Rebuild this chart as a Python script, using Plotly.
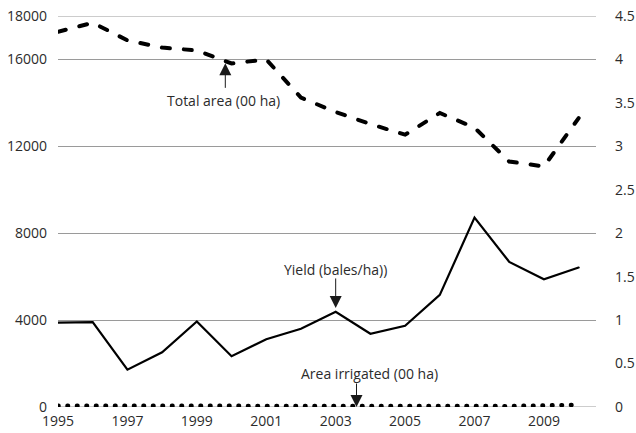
import plotly.graph_objects as go

years = list(range(1995, 2011))
total_area = [17275, 17690, 16880, 16545, 16415, 15815, 16000, 14245, 13580, 13025, 12536, 13535, 12860, 11300, 11075, 13300]
area_irrigated = [60, 60, 55, 55, 50, 45, 15, 10, 10, 10, 10, 15, 25, 40, 70, 100]
yield_bales = [0.97, 0.977, 0.43, 0.63, 0.985, 0.585, 0.78, 0.90, 1.096, 0.843, 0.935, 1.29, 2.18, 1.67, 1.47, 1.605]

left_ticks = [0, 4000, 8000, 12000, 16000, 18000]
right_ticks = [0, 0.5, 1, 1.5, 2, 2.5, 3, 3.5, 4, 4.5]
right_labels = ["0", "0.5", "1", "1.5", "2", "2.5", "3", "3.5", "4", "4.5"]
x_ticks = [1995, 1997, 1999, 2001, 2003, 2005, 2007, 2009]

FONT = "Open Sans, Noto Sans, sans-serif"
TXT = "#2b2b2b"
GRID = "#9a9a9a"
ANN_FONT = dict(family=FONT, size=14, color=TXT)

fig = go.Figure()
fig.add_trace(go.Scatter(x=years, y=total_area, mode="lines", name="Total area (00 ha)",
                         line=dict(color="black", width=4, dash="8px,14px"), yaxis="y"))
fig.add_trace(go.Scatter(x=years, y=area_irrigated, mode="lines", name="Area irrigated (00 ha)",
                         line=dict(color="black", width=4.5, dash="0.5px,9px"), yaxis="y"))
fig.add_trace(go.Scatter(x=years, y=yield_bales, mode="lines", name="Yield (bales/ha))",
                         line=dict(color="black", width=2.2), yaxis="y2"))

arrow_common = dict(showarrow=True, arrowhead=2, arrowsize=2.4, arrowwidth=1,
                    arrowcolor="#1a1a1a", axref="pixel", ayref="pixel", text="")
ann = []
# Total area arrow (points at 2000 dip)
ann.append(dict(x=1999.82, y=15820, xref="x", yref="y", ax=0, ay=26, **arrow_common))
ann.append(dict(x=1999.76, y=15820, xref="x", yref="y", yshift=-37,
                text="Total area (00 ha)", showarrow=False, font=ANN_FONT))
# Yield arrow (points at 2003 peak)
ann.append(dict(x=2003.0, y=1.14, xref="x", yref="y2", ax=0, ay=-31, **arrow_common))
ann.append(dict(x=2003.0, y=1.14, xref="x", yref="y2", yshift=38,
                text="Yield (bales/ha))", showarrow=False, font=ANN_FONT))
# Area irrigated arrow
ann.append(dict(x=2003.6, y=0, xref="x", yref="y2", ax=0, ay=-25, **arrow_common))
ann.append(dict(x=2003.6, y=0, xref="x", yref="y2", xshift=13, yshift=34,
                text="Area irrigated (00 ha)", showarrow=False, font=ANN_FONT))

# gridlines at the range edges (plotly clips them)
edge_lines = [dict(type="line", xref="paper", x0=0, x1=1, yref="y", y0=v, y1=v,
                   line=dict(color=GRID, width=1), layer="below")
              for v in (left_ticks[0], left_ticks[-1])]

fig.update_layout(
    width=636, height=433,
    margin=dict(l=58, r=40, t=16, b=26, autoexpand=False),
    paper_bgcolor="white", plot_bgcolor="white",
    showlegend=False,
    font=dict(family=FONT, size=14, color=TXT),
    xaxis=dict(range=[1995, 2010.5], tickvals=x_ticks, ticktext=[str(v) for v in x_ticks],
               showgrid=False, zeroline=False, showline=False, ticks="", automargin=False,
               ticklabelstandoff=4, tickfont=dict(size=14, color=TXT)),
    yaxis=dict(range=[0, 18000], tickvals=left_ticks, ticktext=[str(v) for v in left_ticks],
               showgrid=True, gridcolor=GRID, gridwidth=1, zeroline=False, automargin=False,
               showline=False, ticks="", ticklabelstandoff=10, tickfont=dict(size=14, color=TXT)),
    yaxis2=dict(range=[0, 4.5], tickvals=right_ticks, ticktext=right_labels, overlaying="y",
                side="right", showgrid=False, zeroline=False, showline=False, ticks="",
                automargin=False,
                ticklabelstandoff=18, tickfont=dict(size=14, color=TXT)),
    annotations=ann,
    shapes=edge_lines,
)

post = """
document.body.style.margin='0';
document.body.style.padding='0';
document.querySelectorAll('.scatterlayer .js-line').forEach(function(p){
  p.style.strokeLinecap='round';
});
"""
fig.write_html("out.html", post_script=post, config={"displayModeBar": False})
